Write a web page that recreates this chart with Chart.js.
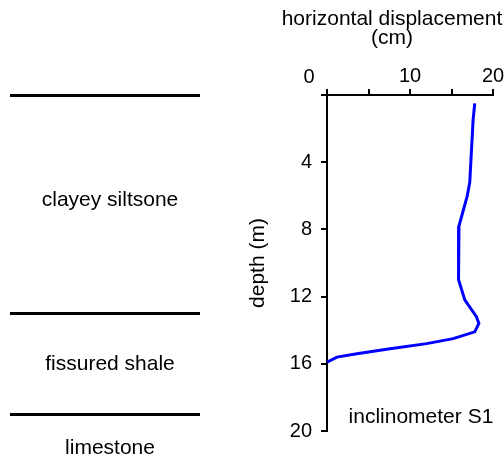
<!DOCTYPE html>
<html>
<head>
<meta charset="utf-8">
<script src="https://cdn.jsdelivr.net/npm/chart.js@4"></script>
<style>
  html, body { margin: 0; padding: 0; background: #fff; }
  #wrap { width: 504px; height: 459px; }
</style>
</head>
<body>
<div id="wrap"><canvas id="chart"></canvas></div>
<script>
// ===== DATA =====
// inclinometer S1 profile
const depth = [0.5, 1.5, 5.2, 6.0, 7.8, 9.8, 11.0, 12.2, 13.2, 13.6, 14.1, 14.5, 14.8, 15.1, 15.4, 15.6, 15.9];
const displacement = [17.8, 17.6, 17.2, 16.9, 15.9, 15.8, 15.9, 16.6, 18.0, 18.3, 17.8, 15.2, 12.0, 7.6, 3.6, 1.2, 0];

const xTicks = [0, 5, 10, 15, 20];
const xLabelled = [0, 10, 20];
const depthTicks = [0, 4, 8, 12, 16, 20];

// soil layers shown on the left
const layerNames = ["clayey siltsone", "fissured shale", "limestone"];
const layerLabelDepth = [6.63, 16.35, 21.37];
const layerBoundaries = [0, 13, 19];

const xTitle = ["horizontal displacement", "(cm)"];
const yTitle = "depth (m)";
const seriesName = "inclinometer S1";

const FONT = '"Liberation Sans", Arial, sans-serif';

// ===== EXTRA DRAWING =====
const overlay = {
  id: "overlay",
  afterDraw(chart) {
    const ctx = chart.ctx;
    const xs = chart.scales.x;
    const ys = chart.scales.y;
    ctx.save();

    // layer boundaries
    ctx.strokeStyle = "#000";
    ctx.lineWidth = 3;
    layerBoundaries.forEach((d) => {
      const y = Math.round(ys.getPixelForValue(d)) + 0.5;
      ctx.beginPath();
      ctx.moveTo(10, y);
      ctx.lineTo(200, y);
      ctx.stroke();
    });

    // layer names
    ctx.fillStyle = "#000";
    ctx.font = "21px " + FONT;
    ctx.textAlign = "center";
    ctx.textBaseline = "alphabetic";
    layerNames.forEach((name, i) => {
      ctx.fillText(name, 110, ys.getPixelForValue(layerLabelDepth[i]));
    });

    // axis title on top
    ctx.fillText(xTitle[0], 392, 25);
    ctx.fillText(xTitle[1], 392, 44);

    // the "0" label sits left of the corner
    ctx.font = "20px " + FONT;
    ctx.fillText("0", xs.getPixelForValue(0) - 18, 83);

    // series name
    ctx.font = "21px " + FONT;
    ctx.textAlign = "left";
    ctx.fillText(seriesName, xs.getPixelForValue(2.6), ys.getPixelForValue(19.5));

    ctx.restore();
  },
};

// ===== CHART =====
new Chart(document.getElementById("chart"), {
  type: "line",
  data: {
    datasets: [
      {
        label: seriesName,
        data: depth.map((d, i) => ({ x: displacement[i], y: d })),
        borderColor: "#0000ff",
        borderWidth: 3,
        pointRadius: 0,
        tension: 0,
        fill: false,
      },
    ],
  },
  options: {
    responsive: true,
    maintainAspectRatio: false,
    animation: false,
    layout: {
      padding: { left: 240, top: 50, right: 11, bottom: 28 },
    },
    plugins: {
      legend: { display: false },
      tooltip: { enabled: false },
    },
    scales: {
      x: {
        type: "linear",
        position: "top",
        min: 0,
        max: 20,
        afterBuildTicks: (s) => {
          s.ticks = xTicks.map((v) => ({ value: v }));
        },
        afterFit: (s) => {
          s.height = 45;
          s.paddingLeft = 0;
          s.paddingRight = 0;
        },
        ticks: {
          color: "#000",
          font: { family: FONT, size: 20 },
          padding: 1,
          maxRotation: 0,
          callback: (v) => (xLabelled.includes(v) && v !== 0 ? v : ""),
        },
        grid: {
          drawOnChartArea: false,
          drawTicks: true,
          tickLength: 6,
          color: "#000",
          lineWidth: 2,
        },
        border: { display: true, color: "#000", width: 2 },
      },
      y: {
        type: "linear",
        position: "left",
        reverse: true,
        min: 0,
        max: 20,
        afterBuildTicks: (s) => {
          s.ticks = depthTicks.map((v) => ({ value: v }));
        },
        afterFit: (s) => {
          s.width = 87;
          s.paddingTop = 0;
          s.paddingBottom = 0;
        },
        ticks: {
          color: "#000",
          font: { family: FONT, size: 20 },
          padding: 9,
          callback: (v) => (v === 0 ? "" : v),
        },
        grid: {
          drawOnChartArea: false,
          drawTicks: true,
          tickLength: 6,
          color: "#000",
          lineWidth: 2,
        },
        border: { display: true, color: "#000", width: 2 },
        title: {
          display: true,
          text: yTitle,
          color: "#000",
          font: { family: FONT, size: 21 },
          padding: { top: 6, bottom: 0 },
        },
      },
    },
  },
  plugins: [overlay],
});
</script>
</body>
</html>
